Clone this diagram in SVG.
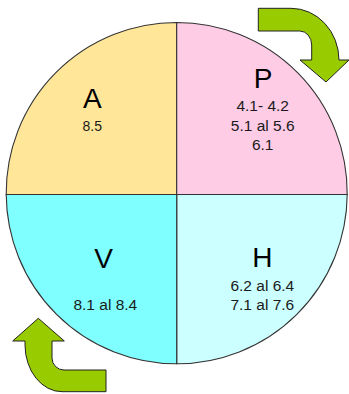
<svg xmlns="http://www.w3.org/2000/svg" width="349" height="394" viewBox="0 0 349 394">
<style>
  .q{stroke:#333;stroke-width:1.1}
  .big{font-family:"Liberation Sans",Arial,sans-serif;font-size:28px;fill:#000;text-anchor:middle}
  .num{font-family:"Liberation Sans",Arial,sans-serif;font-size:15.5px;fill:#1a1a1a;text-anchor:middle}
  .arrow{fill:#99CC00;stroke:#222;stroke-width:1}
</style>
<rect width="349" height="394" fill="#fff"/>
<g id="node-A">
  <path class="q" fill="#FFE699" d="M176.7,194.5 H6.2 A170.5,170.5 0 0 1 176.7,22.5 Z"/>
  <text class="big" x="92.3" y="108.3">A</text>
  <text class="num" x="92.3" y="130.7" style="font-size:14px">8.5</text>
</g>
<g id="node-P">
  <path class="q" fill="#FFCCE6" d="M176.7,194.5 V22.5 A170.5,170.5 0 0 1 347.2,194.5 Z"/>
  <text class="big" x="263" y="88.3">P</text>
  <text class="num" x="262.7" y="111">4.1- 4.2</text>
  <text class="num" x="262.7" y="131">5.1 al 5.6</text>
  <text class="num" x="262.7" y="150">6.1</text>
</g>
<g id="node-H">
  <path class="q" fill="#CCFFFF" d="M176.7,194.5 H347.2 A170.5,170.5 0 0 1 176.7,363.8 Z"/>
  <text class="big" x="262.3" y="266.7">H</text>
  <text class="num" x="262.3" y="291">6.2 al 6.4</text>
  <text class="num" x="262.3" y="310">7.1 al 7.6</text>
</g>
<g id="node-V">
  <path class="q" fill="#7FFFFF" d="M176.7,194.5 V363.8 A170.5,170.5 0 0 1 6.2,194.5 Z"/>
  <text class="big" x="103.5" y="268.3">V</text>
  <text class="num" x="105.3" y="310">8.1 al 8.4</text>
</g>
<g id="connectors">
  <path class="arrow" d="M258.3,8.3 L291,8.3 A48,52 0 0 1 339,60 L349,60 L326,82 L300,60 L311.7,60 L311.7,45 A12,14 0 0 0 299.7,31 L258.3,31 Z"/>
  <path class="arrow" d="M25,341 L25,345 A37,47 0 0 0 62,391.7 L106,391.7 L106,370 L64,370 A12,12 0 0 1 52,358 L52,341 L64.3,341 L38.3,318.3 L12.7,341 Z"/>
</g>
</svg>
